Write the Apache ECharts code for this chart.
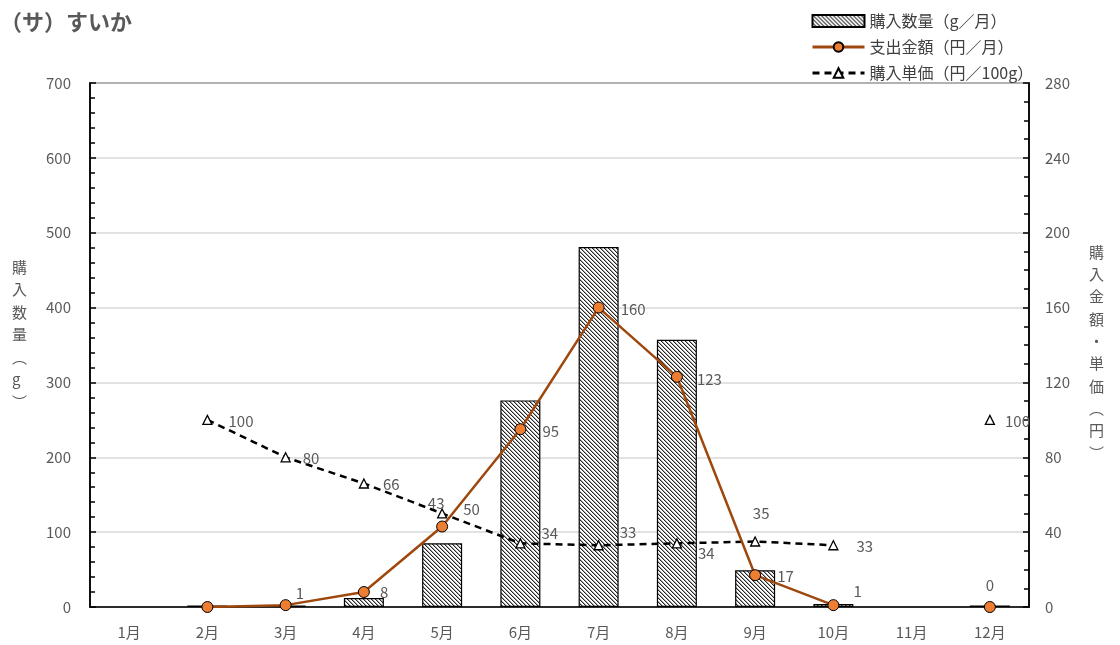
<!DOCTYPE html>
<html><head><meta charset="utf-8">
<script src="https://cdn.jsdelivr.net/npm/echarts@6/dist/echarts.min.js"></script>
<style>html,body{margin:0;padding:0;background:#fff}#c{width:1120px;height:645px}</style>
</head><body><div id="c"></div>
<script>
const months = ['1月','2月','3月','4月','5月','6月','7月','8月','9月','10月','11月','12月'];
const quantity = [null, 2, 2, 12, 85, 276, 481, 357, 49, 4, null, 2];      // g / 月
const expense  = [null, 0, 1, 8, 43, 95, 160, 123, 17, 1, null, 0];         // 円 / 月
const unitPrice = [null, 100, 80, 66, 50, 34, 33, 34, 35, 33, null, 100];   // 円 / 100g
const leftTicks = [0, 700, 100];
const rightTicks = [0, 280, 40];

// label placement (style only)
const expLabelPos = [null, null, ['right',[0,-12],4], ['right',[0,0],10], ['top',[-6,-4],6], ['right',[0,2],16], ['right',[0,2],16], ['right',[0,2],14], ['right',[0,1],16], ['right',[8,-14],6], null, ['top',[0,-2],6]];
const priceLabelPos = [null, ['right',[0,1],16], ['right',[0,1],12], ['right',[0,1],14], ['right',[0,-4],16], ['right',[0,-10],16], ['right',[0,-13],16], ['right',[0,10],16], ['top',[6,-10],6], ['right',[0,1],18], null, ['right',[0,1],10]];

const font = '"Noto Sans CJK JP","Noto Sans",sans-serif';
const gray = '#595959';

function hatch() {
  const c = document.createElement('canvas');
  c.width = 4; c.height = 4;
  const g = c.getContext('2d');
  g.fillStyle = '#fff'; g.fillRect(0,0,4,4);
  for (let i = 0; i < 4; i++) {
    g.fillStyle = '#262626'; g.fillRect(i, i, 1, 1);
    g.fillStyle = '#a6a6a6'; g.fillRect((i+1)%4, i, 1, 1);
  }
  return c;
}
const pattern = {image: hatch(), repeat: 'repeat'};

function withLabels(vals, pos) {
  return vals.map((v, i) => {
    if (v === null) return null;
    const p = pos[i];
    if (!p) return {value: v, label: {show: false}};
    return {value: v, label: {show: true, position: p[0], offset: p[1], distance: p[2]}};
  });
}

const chart = echarts.init(document.getElementById('c'), null, {renderer: 'canvas'});
chart.setOption({
  animation: false,
  textStyle: {fontFamily: font},
  title: {text: '（サ）すいか', left: -5, top: 6,
    textStyle: {fontFamily: font, fontSize: 22, fontWeight: 'bold', color: gray}},
  legend: {
    left: 806, top: 8, orient: 'vertical', itemWidth: 52, itemHeight: 12, itemGap: 10,
    textStyle: {fontFamily: font, fontSize: 16, color: '#404040'},
    data: [
      {name: '購入数量（g／月）', icon: 'rect'},
      {name: '支出金額（円／月）', lineStyle: {width: 3}},
      {name: '購入単価（円／100g）', lineStyle: {width: 3}}
    ]
  },
  grid: {left: 90, right: 91, top: 83, bottom: 38, show: true, borderColor: '#000', borderWidth: 1.5, backgroundColor: 'transparent'},
  graphic: [
    {type: 'text', left: 12, top: 256, style: {text: '購\n入\n数\n量\n︵\ng\n︶', font: '15px ' + font, fill: gray, lineHeight: 22.5, align: 'center'}},
    {type: 'text', left: 1089, top: 241, style: {text: '購\n入\n金\n額\n・\n単\n価\n︵\n円\n︶', font: '15px ' + font, fill: gray, lineHeight: 22.3, align: 'center'}}
  ],
  xAxis: {
    type: 'category', data: months, boundaryGap: true,
    axisLine: {lineStyle: {color: '#000', width: 1.5}},
    axisTick: {inside: true, length: 5, interval: 0, lineStyle: {color: '#000', width: 1}},
    axisLabel: {color: gray, fontSize: 15, margin: 18, fontFamily: font}
  },
  yAxis: [
    {type: 'value', min: leftTicks[0], max: leftTicks[1], interval: leftTicks[2],
     axisLine: {show: true, lineStyle: {color: '#000', width: 1.5}},
     axisTick: {show: true, inside: true, length: 6, lineStyle: {color: '#000', width: 1.5}},
     minorTick: {show: true, splitNumber: 5, length: 5, lineStyle: {color: '#000', width: 1.5}},
     axisLabel: {color: gray, fontSize: 15, margin: 19, fontFamily: font},
     splitLine: {lineStyle: {color: '#d9d9d9', width: 1.5}}},
    {type: 'value', min: rightTicks[0], max: rightTicks[1], interval: rightTicks[2], position: 'right',
     axisLine: {show: true, lineStyle: {color: '#000', width: 1.5}},
     axisTick: {show: true, inside: true, length: 6, lineStyle: {color: '#000', width: 1.5}},
     minorTick: {show: true, splitNumber: 4, length: 5, lineStyle: {color: '#000', width: 1.5}},
     axisLabel: {color: gray, fontSize: 15, margin: 16, fontFamily: font},
     splitLine: {show: false}}
  ],
  series: [
    {name: '購入数量（g／月）', type: 'bar', yAxisIndex: 0, barWidth: 40, data: quantity,
     itemStyle: {color: pattern, borderColor: '#000', borderWidth: 1.2}},
    {name: '支出金額（円／月）', type: 'line', yAxisIndex: 1, data: withLabels(expense, expLabelPos),
     connectNulls: false, symbol: 'circle', symbolSize: 11, z: 4,
     lineStyle: {color: '#9E480E', width: 2.5},
     itemStyle: {color: '#ED7D31', borderColor: '#000', borderWidth: 1},
     label: {color: gray, fontSize: 15, fontFamily: font}},
    {name: '購入単価（円／100g）', type: 'line', yAxisIndex: 1, data: withLabels(unitPrice, priceLabelPos),
     connectNulls: false, symbol: 'triangle', symbolSize: 9, z: 3,
     lineStyle: {color: '#000', width: 2.5, type: [7, 5]},
     itemStyle: {color: '#fff', borderColor: '#000', borderWidth: 1.3},
     label: {color: gray, fontSize: 15, fontFamily: font}}
  ]
});
</script></body></html>
